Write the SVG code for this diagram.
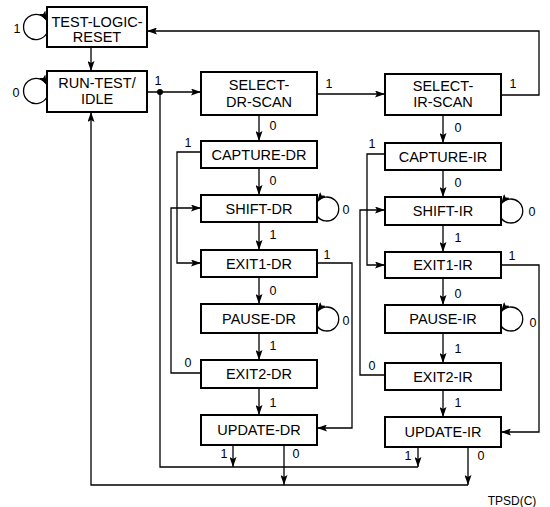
<svg xmlns="http://www.w3.org/2000/svg" width="550" height="507" viewBox="0 0 550 507">
<style>
.box{fill:#fff;stroke:#000;stroke-width:2}
.t{font-family:"Liberation Sans",Arial,sans-serif;font-size:14.5px;fill:#000;text-anchor:middle}
.l{font-family:"Liberation Sans",Arial,sans-serif;font-size:12.5px;fill:#000;text-anchor:middle}
.c{fill:none;stroke:#000;stroke-width:1.3}
.a{marker-end:url(#ah)}
</style>
<defs>
<marker id="ah" markerUnits="userSpaceOnUse" markerWidth="10" markerHeight="7" refX="10" refY="3.5" orient="auto">
<path d="M0,0 L10,3.5 L0,7 L2,3.5 z" fill="#000"/>
</marker>
</defs>
<rect width="550" height="507" fill="#fff"/>
<g id="connectors">
<path class="c a" d="M47,33 A12.5,12.5 0 1 1 47,21"/>
<path class="c a" d="M47,97 A12.5,12.5 0 1 1 47,85"/>
<path class="c a" d="M91,47 L91,71"/>
<path class="c a" d="M147,92 L201,92"/>
<circle cx="160" cy="92" r="3" fill="#000"/>
<path class="c a" d="M317,94 L385,94"/>
<path class="c a" d="M501,95 L539,95 L539,31 L147,31"/>
<path class="c a" d="M259,115 L259,141"/>
<path class="c a" d="M259,168 L259,195"/>
<path class="c a" d="M201,152 L177,152 L177,263 L201,263"/>
<path class="c a" d="M317,216 A12,12 0 1 0 317,202"/>
<path class="c a" d="M259,222 L259,250"/>
<path class="c a" d="M259,277 L259,304"/>
<path class="c a" d="M317,263 L352,263 L352,428 L317,428"/>
<path class="c a" d="M317,326 A12,12 0 1 0 317,312"/>
<path class="c a" d="M259,333 L259,360"/>
<path class="c a" d="M201,373 L171,373 L171,208 L201,208"/>
<path class="c a" d="M259,388 L259,415"/>
<path class="c a" d="M233,445 L233,467"/>
<path class="c a" d="M284,445 L284,485"/>
<path class="c a" d="M443,115 L443,143"/>
<path class="c a" d="M443,170 L443,197"/>
<path class="c a" d="M385,154 L367,154 L367,265 L385,265"/>
<path class="c a" d="M501,218 A12,12 0 1 0 501,204"/>
<path class="c a" d="M443,225 L443,252"/>
<path class="c a" d="M443,278 L443,305"/>
<path class="c a" d="M501,265 L539,265 L539,432 L501,432"/>
<path class="c a" d="M501,326 A12,12 0 1 0 501,312"/>
<path class="c a" d="M443,333 L443,363"/>
<path class="c a" d="M385,375 L360,375 L360,210 L385,210"/>
<path class="c a" d="M443,390 L443,417"/>
<path class="c a" d="M418,447 L418,467"/>
<path class="c a" d="M468,447 L468,485"/>
<path class="c" d="M418,467 L160,467 L160,92"/>
<path class="c a" d="M468,485 L91,485 L91,112"/>
<text class="l" x="17" y="33">1</text>
<text class="l" x="16" y="97">0</text>
<text class="l" x="158" y="85">1</text>
<text class="l" x="329" y="88">1</text>
<text class="l" x="513" y="88">1</text>
<text class="l" x="273" y="130">0</text>
<text class="l" x="188" y="147">1</text>
<text class="l" x="273" y="185">0</text>
<text class="l" x="346" y="214">0</text>
<text class="l" x="273" y="239">1</text>
<text class="l" x="327" y="259">1</text>
<text class="l" x="273" y="295">0</text>
<text class="l" x="346" y="325">0</text>
<text class="l" x="273" y="350">1</text>
<text class="l" x="188" y="367">0</text>
<text class="l" x="273" y="407">1</text>
<text class="l" x="224" y="458">1</text>
<text class="l" x="296" y="458">0</text>
<text class="l" x="458" y="132">0</text>
<text class="l" x="372" y="148">1</text>
<text class="l" x="458" y="187">0</text>
<text class="l" x="532" y="216">0</text>
<text class="l" x="458" y="242">1</text>
<text class="l" x="512" y="260">1</text>
<text class="l" x="458" y="298">0</text>
<text class="l" x="533" y="327">0</text>
<text class="l" x="458" y="353">1</text>
<text class="l" x="372" y="370">0</text>
<text class="l" x="458" y="407">1</text>
<text class="l" x="408" y="460">1</text>
<text class="l" x="481" y="460">0</text>
</g>
<g id="tlr"><rect class="box" x="47" y="7" width="100" height="40"/><text class="t" x="97" y="27">TEST-LOGIC-</text><text class="t" x="97" y="42">RESET</text></g>
<g id="rti"><rect class="box" x="47" y="71" width="100" height="41"/><text class="t" x="97" y="88">RUN-TEST/</text><text class="t" x="97" y="104">IDLE</text></g>
<g id="select-dr"><rect class="box" x="201" y="72" width="116" height="43"/><text class="t" x="259" y="90">SELECT-</text><text class="t" x="259" y="107">DR-SCAN</text></g>
<g id="capture-dr"><rect class="box" x="201" y="141" width="116" height="27"/><text class="t" x="259" y="159.5">CAPTURE-DR</text></g>
<g id="shift-dr"><rect class="box" x="201" y="195" width="116" height="27"/><text class="t" x="259" y="213.5">SHIFT-DR</text></g>
<g id="exit1-dr"><rect class="box" x="201" y="250" width="116" height="27"/><text class="t" x="259" y="268.5">EXIT1-DR</text></g>
<g id="pause-dr"><rect class="box" x="201" y="304" width="116" height="29"/><text class="t" x="259" y="323.5">PAUSE-DR</text></g>
<g id="exit2-dr"><rect class="box" x="201" y="360" width="116" height="28"/><text class="t" x="259" y="379">EXIT2-DR</text></g>
<g id="update-dr"><rect class="box" x="201" y="415" width="116" height="30"/><text class="t" x="259" y="435">UPDATE-DR</text></g>
<g id="select-ir"><rect class="box" x="385" y="74" width="116" height="41"/><text class="t" x="443" y="91">SELECT-</text><text class="t" x="443" y="107">IR-SCAN</text></g>
<g id="capture-ir"><rect class="box" x="385" y="143" width="116" height="27"/><text class="t" x="443" y="161.5">CAPTURE-IR</text></g>
<g id="shift-ir"><rect class="box" x="385" y="197" width="116" height="28"/><text class="t" x="443" y="216">SHIFT-IR</text></g>
<g id="exit1-ir"><rect class="box" x="385" y="252" width="116" height="26"/><text class="t" x="443" y="270">EXIT1-IR</text></g>
<g id="pause-ir"><rect class="box" x="385" y="305" width="116" height="28"/><text class="t" x="443" y="324">PAUSE-IR</text></g>
<g id="exit2-ir"><rect class="box" x="385" y="363" width="116" height="27"/><text class="t" x="443" y="381.5">EXIT2-IR</text></g>
<g id="update-ir"><rect class="box" x="385" y="417" width="116" height="30"/><text class="t" x="443" y="437">UPDATE-IR</text></g>
<text x="512" y="505" style="font-family:'Liberation Sans',Arial,sans-serif;font-size:12px;text-anchor:middle">TPSD(C)</text>
</svg>
